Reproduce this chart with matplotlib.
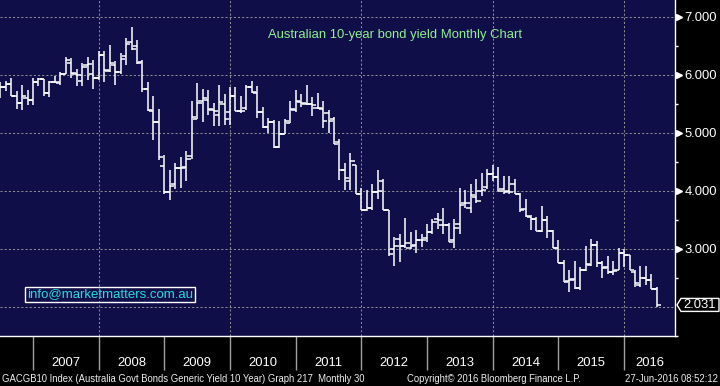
import numpy as np
import matplotlib
matplotlib.use("Agg")
import matplotlib.pyplot as plt
from matplotlib.ticker import FixedLocator, NullFormatter, FixedFormatter
from matplotlib.patches import Polygon

plt.rcParams['font.family'] = ['Liberation Sans', 'DejaVu Sans']
plt.rcParams['lines.scale_dashes'] = False

# monthly OHLC of the Australian 10y yield, Jun 2006 .. Jun 2016
first_year, first_month = 2006, 6
opens = [5.70, 5.78, 5.84, 5.64, 5.52, 5.59, 5.56,
         5.88, 5.93, 5.69, 5.88, 5.86, 6.02, 6.20, 6.01, 5.90, 6.17, 6.01, 5.94,
         6.34, 6.07, 6.16, 6.04, 6.33, 6.57, 6.49, 6.22, 5.76, 5.38, 5.18, 4.43,
         3.97, 4.12, 4.40, 4.41, 4.59, 5.23, 5.54, 5.56, 5.39, 5.30, 5.49, 5.36,
         5.64, 5.38, 5.42, 5.78, 5.69, 5.35, 5.10, 5.18, 4.75, 4.98, 5.16, 5.40,
         5.53, 5.49, 5.49, 5.43, 5.41, 5.34, 5.24, 4.84, 4.36, 4.16, 4.44, 3.95,
         3.67, 3.71, 3.97, 4.17, 3.66, 2.99, 3.17, 3.05, 3.02, 3.06, 3.15, 3.18,
         3.28, 3.51, 3.41, 3.41, 3.15, 3.42, 3.78, 3.70, 3.90, 4.00, 4.06, 4.29,
         4.23, 4.03, 4.00, 4.11, 3.95, 3.69, 3.54, 3.52, 3.30, 3.49, 3.30, 3.02,
         2.75, 2.45, 2.47, 2.32, 2.63, 2.72, 3.06, 2.76, 2.69, 2.60, 2.63, 2.92,
         2.89, 2.60, 2.37, 2.49, 2.46, 2.30]
highs = [5.88, 5.90, 5.94, 5.72, 5.83, 5.74, 5.94,
         5.94, 5.93, 5.90, 5.98, 6.05, 6.31, 6.29, 6.09, 6.21, 6.31, 6.25, 6.41,
         6.41, 6.52, 6.24, 6.37, 6.63, 6.82, 6.60, 6.26, 5.87, 5.63, 5.41, 4.62,
         4.35, 4.48, 4.58, 4.69, 5.54, 5.86, 5.76, 5.74, 5.52, 5.82, 5.67, 5.78,
         5.79, 5.64, 5.82, 5.89, 5.80, 5.44, 5.26, 5.22, 5.20, 5.24, 5.54, 5.74,
         5.66, 5.83, 5.61, 5.69, 5.55, 5.39, 5.27, 4.90, 4.47, 4.65, 4.45, 4.05,
         4.01, 4.12, 4.35, 4.20, 3.66, 3.21, 3.25, 3.53, 3.28, 3.32, 3.25, 3.43,
         3.52, 3.61, 3.71, 3.44, 3.51, 4.04, 4.01, 4.11, 4.20, 4.30, 4.37, 4.45,
         4.41, 4.26, 4.25, 4.20, 3.96, 3.86, 3.58, 3.54, 3.74, 3.56, 3.32, 3.15,
         2.80, 2.64, 2.78, 2.68, 3.05, 3.16, 3.14, 2.78, 2.87, 2.78, 3.01, 2.99,
         2.89, 2.64, 2.70, 2.70, 2.57, 2.34]
lows = [5.60, 5.72, 5.64, 5.41, 5.40, 5.47, 5.48,
        5.81, 5.64, 5.61, 5.85, 5.82, 6.01, 5.94, 5.80, 5.80, 5.91, 5.76, 5.91,
        5.87, 6.04, 5.82, 6.02, 6.17, 6.43, 6.18, 5.70, 5.38, 4.88, 4.53, 3.95,
        3.84, 4.03, 4.04, 4.17, 4.54, 5.23, 5.19, 5.30, 5.12, 5.11, 5.14, 5.14,
        5.37, 5.34, 5.40, 5.68, 5.25, 5.08, 4.99, 4.74, 4.74, 4.98, 5.16, 5.36,
        5.45, 5.47, 5.29, 5.41, 5.08, 4.99, 4.80, 4.19, 4.01, 4.01, 3.95, 3.66,
        3.65, 3.66, 3.86, 3.67, 2.87, 2.71, 2.77, 3.01, 2.99, 2.93, 3.03, 3.12,
        3.26, 3.34, 3.26, 3.12, 3.02, 3.25, 3.70, 3.61, 3.79, 3.91, 4.03, 4.17,
        3.99, 3.95, 3.94, 3.95, 3.63, 3.54, 3.33, 3.30, 3.29, 3.18, 3.02, 2.75,
        2.43, 2.26, 2.30, 2.29, 2.62, 2.70, 2.69, 2.49, 2.56, 2.55, 2.63, 2.69,
        2.63, 2.34, 2.34, 2.37, 2.30, 1.99]
closes = [5.78, 5.84, 5.64, 5.51, 5.64, 5.57, 5.88,
          5.93, 5.69, 5.88, 5.88, 6.01, 6.26, 6.03, 5.99, 6.14, 6.18, 5.95, 6.34,
          6.08, 6.21, 6.04, 6.27, 6.53, 6.44, 6.20, 5.76, 5.39, 5.18, 4.58, 3.97,
          4.08, 4.39, 4.40, 4.55, 5.27, 5.52, 5.60, 5.41, 5.38, 5.53, 5.24, 5.64,
          5.38, 5.37, 5.78, 5.70, 5.35, 5.10, 5.18, 4.75, 4.97, 5.21, 5.41, 5.55,
          5.51, 5.49, 5.48, 5.43, 5.21, 5.21, 4.80, 4.36, 4.22, 4.51, 3.95, 3.66,
          3.71, 3.98, 3.99, 3.67, 2.91, 3.05, 3.04, 3.10, 3.05, 3.15, 3.15, 3.29,
          3.46, 3.49, 3.41, 3.12, 3.35, 3.76, 3.79, 3.93, 3.82, 4.02, 4.29, 4.24,
          3.99, 3.97, 3.98, 3.95, 3.67, 3.56, 3.51, 3.30, 3.49, 3.30, 3.02, 2.75,
          2.43, 2.46, 2.32, 2.63, 2.74, 3.06, 2.76, 2.66, 2.60, 2.62, 2.92, 2.89,
          2.64, 2.41, 2.49, 2.46, 2.30, 2.031]

years = list(range(2007, 2017))
grid_years = [2008, 2010, 2012, 2014, 2016]
grid_values = [2, 3, 4, 5, 6, 7]
y_ticks = [3, 4, 5, 6, 7]
y_minor = [1.5, 2.5, 3.5, 4.5, 5.5, 6.5]
last_value = closes[-1]

title = "Australian 10-year bond yield Monthly Chart"
email = "info@marketmatters.com.au"
footer_left = "GACGB10 Index (Australia Govt Bonds Generic Yield 10 Year) Graph 217  Monthly 30"
footer_mid = "Copyright\u00a9 2016 Bloomberg Finance L.P."
footer_right = "27-Jun-2016 08:52:12"

# bars sit at the end of their month
n = len(closes)
t = first_year + first_month / 12 + np.arange(n) / 12
w = 0.8 / 12

fig = plt.figure(figsize=(7.2, 3.86), dpi=100, facecolor='black')
ax = fig.add_axes([0, 50 / 386, 675 / 720, 336 / 386])
ax.set_facecolor('#100e48')

for v in grid_values:
    ax.axhline(v, color='#8c8c8c', lw=0.75, ls=(0, (1.5, 1.5)), zorder=1)
for yr in grid_years:
    ax.axvline(yr, color='#8c8c8c', lw=0.75, ls=(0, (1.5, 1.5)), zorder=1)

ax.vlines(t, lows, highs, color='white', lw=1.1, zorder=3)
ax.hlines(opens, t - w, t, color='white', lw=1.1, zorder=3)
ax.hlines(closes, t, t + w, color='white', lw=1.1, zorder=3)

ax.set_xlim(2006.4975, 2016.776)
ax.set_ylim(1.495, 7.288)

for s in ['left', 'top']:
    ax.spines[s].set_visible(False)
for s in ['right', 'bottom']:
    ax.spines[s].set_color('white')
    ax.spines[s].set_linewidth(1.0)

# x axis: separators at year starts, labels at year middles
ax.xaxis.set_major_locator(FixedLocator(years))
ax.xaxis.set_major_formatter(NullFormatter())
centers = [y + 0.5 for y in years[:-1]] + [(years[-1] + 2016.776) / 2]
ax.xaxis.set_minor_locator(FixedLocator(centers))
ax.xaxis.set_minor_formatter(FixedFormatter([str(y) for y in years]))
ax.tick_params(axis='x', which='major', length=24.5, width=1, color='#a0a0a0', direction='out')
ax.tick_params(axis='x', which='minor', length=0, pad=15, labelsize=9.4, labelcolor='white')

# y axis on the right
ax.yaxis.tick_right()
ax.yaxis.set_major_locator(FixedLocator(y_ticks))
ax.yaxis.set_major_formatter(FixedFormatter(['%.3f' % v for v in y_ticks]))
ax.yaxis.set_minor_locator(FixedLocator(y_minor))
ax.tick_params(axis='y', which='major', length=0, pad=7, labelsize=9.4, labelcolor='white')
ax.tick_params(axis='y', which='minor', length=2.2, width=1, color='white', direction='out')
ax.plot([1 + 4 / 675] * len(y_ticks), y_ticks, transform=ax.get_yaxis_transform(),
        ls='none', marker='>', ms=4.5, color='white', clip_on=False)

# last value tag
px = 1 / 675
hh = 0.112
tag = Polygon([(1 + 2 * px, last_value), (1 + 6 * px, last_value + hh),
               (1 + 44 * px, last_value + hh), (1 + 44 * px, last_value - hh),
               (1 + 6 * px, last_value - hh)],
              closed=True, fc='black', ec='white', lw=1.0,
              transform=ax.get_yaxis_transform(), clip_on=False, zorder=5)
ax.add_patch(tag)
ax.text(1 + 25 * px, last_value, '%.3f' % last_value, transform=ax.get_yaxis_transform(),
        ha='center', va='center', color='white', fontsize=9.4, zorder=6, clip_on=False)

ax.text(394.5 / 675, 1 - 35 / 336, title, transform=ax.transAxes, ha='center', va='center',
        color='#8ef08e', fontsize=9.4)
ax.text(27 / 675, 1 - 294.5 / 336, email, transform=ax.transAxes, ha='left', va='center',
        color='#22dcdc', fontsize=9.5,
        bbox=dict(boxstyle='square,pad=0.12', fc='none', ec='white', lw=1.0))

fig.text(2 / 720, 7 / 386, footer_left, color='#eeeeee', fontsize=6.85, va='center', ha='left')
fig.text(407 / 720, 7 / 386, footer_mid, color='#eeeeee', fontsize=6.85, va='center', ha='left')
fig.text(718 / 720, 7 / 386, footer_right, color='#eeeeee', fontsize=6.85, va='center', ha='right')

fig.savefig('out.png', dpi=100, facecolor='black')
